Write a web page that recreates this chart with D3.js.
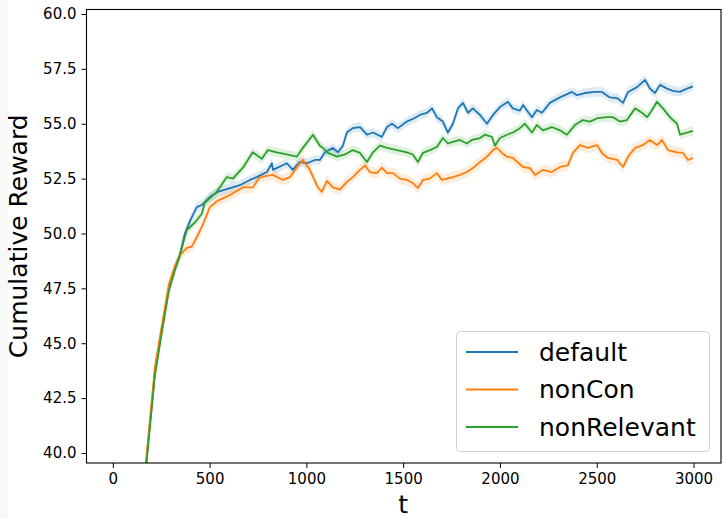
<!DOCTYPE html>
<html>
<head>
<meta charset="utf-8">
<script src="https://cdn.jsdelivr.net/npm/d3@7"></script>
<style>
  body { margin: 0; background: #fff; }
  svg { font-family: "DejaVu Sans", sans-serif; }
</style>
</head>
<body>
<svg id="chart" width="723" height="519"></svg>
<script>
// values
const tDefault = [170,217,253,290,320,346,372,400,434,460,501,543,605,656,708,744,796,822,827,899,930,966,1003,1044,1070,1096,1137,1163,1189,1209,1240,1277,1313,1344,1390,1416,1442,1473,1519,1560,1586,1623,1649,1674,1705,1731,1757,1783,1809,1835,1860,1897,1933,1964,2000,2041,2067,2103,2119,2165,2191,2217,2258,2310,2372,2398,2439,2491,2527,2568,2605,2636,2662,2708,2750,2775,2801,2827,2863,2894,2930,2966,2997]
const vDefault = [39.3,43.64,45.6,47.56,48.4,49.0,50.0,50.6,51.2,51.3,51.66,51.9,52.07,52.2,52.44,52.57,52.8,53.2,52.9,53.2,52.9,53.26,53.2,53.35,53.35,53.7,53.9,53.7,54.0,54.6,54.8,54.85,54.5,54.6,54.4,54.85,55.0,54.8,55.1,55.26,55.4,55.5,55.7,55.3,55.1,54.6,55.0,55.7,55.95,55.5,55.7,55.4,55.0,55.4,55.76,56.0,55.7,55.6,55.85,55.3,55.63,55.5,55.95,56.2,56.45,56.3,56.4,56.45,56.45,56.2,56.17,55.95,56.45,56.67,57.0,56.6,56.4,56.77,56.6,56.5,56.45,56.6,56.7]

const tNonCon = [170,217,253,290,320,346,382,408,434,465,501,543,605,672,723,760,827,878,915,966,982,1018,1059,1080,1106,1137,1173,1209,1240,1277,1303,1328,1364,1390,1416,1447,1483,1519,1550,1576,1602,1638,1674,1700,1726,1757,1793,1829,1860,1897,1933,1964,1985,2010,2036,2067,2119,2155,2181,2222,2268,2310,2351,2377,2413,2455,2501,2527,2558,2605,2636,2662,2698,2739,2775,2811,2837,2868,2915,2946,2971,2997]
const vNonCon = [39.5,43.9,45.8,47.7,48.5,49.0,49.34,49.4,49.84,50.4,51.2,51.5,51.75,52.1,52.1,52.57,52.67,52.44,52.57,53.2,53.35,52.9,52.1,51.9,52.4,52.1,52.0,52.35,52.57,52.9,53.1,52.8,52.75,53.0,52.75,52.75,52.5,52.44,52.3,52.07,52.44,52.5,52.75,52.44,52.5,52.57,52.67,52.8,52.98,53.26,53.5,53.8,53.9,53.67,53.5,53.44,53.03,52.98,52.67,52.9,52.8,53.03,53.1,53.67,54.03,53.9,54.03,53.67,53.44,53.35,53.03,53.5,53.9,54.03,54.26,54.03,54.26,53.8,53.7,53.67,53.35,53.44]

const tNonRel = [170,217,253,290,320,346,382,424,460,475,537,589,620,672,723,770,801,847,899,950,982,1034,1070,1085,1111,1158,1199,1240,1277,1313,1344,1380,1416,1468,1519,1550,1576,1602,1638,1674,1705,1731,1757,1793,1829,1855,1897,1922,1959,1974,2000,2036,2067,2103,2129,2165,2191,2222,2268,2310,2346,2387,2429,2465,2506,2553,2584,2620,2656,2698,2734,2760,2786,2811,2842,2878,2915,2930,2966,2997]
const vNonRel = [39.2,43.5,45.5,47.4,48.3,49.0,50.16,50.5,50.9,51.4,51.9,52.57,52.5,53.0,53.7,53.4,53.8,53.7,53.6,53.5,53.9,54.5,54.0,53.9,53.67,53.5,53.6,53.8,53.67,53.26,53.7,54.0,53.9,53.8,53.7,53.6,53.26,53.67,53.8,53.94,54.35,54.1,54.17,54.26,54.1,54.26,54.35,54.5,54.4,54.0,54.35,54.5,54.6,54.8,55.0,54.6,54.94,54.7,54.85,54.7,54.5,54.94,55.17,55.1,55.26,55.3,55.3,55.1,55.17,55.7,55.5,55.3,55.63,56.0,55.7,55.3,55.0,54.5,54.6,54.67]

const seriesNames = ["default", "nonCon", "nonRelevant"]
const seriesColors = ["#1f77b4", "#ff7f0e", "#2ca02c"]
const bandHalf = [0.22, 0.25, 0.22]

const xTicks = [0, 500, 1000, 1500, 2000, 2500, 3000]
const yTicks = [40, 42.5, 45, 47.5, 50, 52.5, 55, 57.5, 60]

const series = [
  tDefault.map((t, i) => [t, vDefault[i]]),
  tNonCon.map((t, i) => [t, vNonCon[i]]),
  tNonRel.map((t, i) => [t, vNonRel[i]])
]

const svg = d3.select("#chart")
const plotLeft = 86.5, plotRight = 721, plotTop = 9.5, plotBottom = 463

// light strip at the left edge
svg.append("rect")
   .attr("x", 0).attr("y", 0).attr("width", 8).attr("height", 519)
   .attr("fill", "#f8f8f8")

const x = d3.scaleLinear().domain([-136, 3142]).range([plotLeft, plotRight])
const y = d3.scaleLinear().domain([39.544, 60.205]).range([plotBottom, plotTop])

svg.append("clipPath").attr("id", "plotclip")
   .append("rect")
   .attr("x", plotLeft).attr("y", plotTop)
   .attr("width", plotRight - plotLeft).attr("height", plotBottom - plotTop)

const plot = svg.append("g").attr("clip-path", "url(#plotclip)")

const line = d3.line()
  .x(d => x(d[0]))
  .y(d => y(d[1]))

series.forEach((s, i) => {
  const band = d3.area()
    .x(d => x(d[0]))
    .y0(d => y(d[1] - bandHalf[i]))
    .y1(d => y(d[1] + bandHalf[i]))
  plot.append("path")
      .datum(s)
      .attr("d", band)
      .attr("fill", seriesColors[i])
      .attr("fill-opacity", 0.15)
})

series.forEach((s, i) => {
  plot.append("path")
      .datum(s)
      .attr("d", line)
      .attr("fill", "none")
      .attr("stroke", seriesColors[i])
      .attr("stroke-width", 1.8)
      .attr("stroke-linejoin", "round")
})

// axes
const xAxis = svg.append("g")
   .attr("transform", `translate(0,${plotBottom})`)
   .call(d3.axisBottom(x).tickValues(xTicks).tickSize(5).tickPadding(5).tickFormat(d3.format("d")))
const yAxis = svg.append("g")
   .attr("transform", `translate(${plotLeft},0)`)
   .call(d3.axisLeft(y).tickValues(yTicks).tickSize(5).tickPadding(5).tickFormat(d3.format(".1f")))

;[xAxis, yAxis].forEach(a => {
  a.select(".domain").remove()
  a.selectAll("text").attr("font-size", 15).attr("fill", "#000").attr("font-family", "DejaVu Sans")
  a.selectAll("line").attr("stroke", "#000").attr("stroke-width", 1)
})

// frame
svg.append("rect")
   .attr("x", plotLeft).attr("y", plotTop)
   .attr("width", plotRight - plotLeft).attr("height", plotBottom - plotTop)
   .attr("fill", "none")
   .attr("stroke", "#000")
   .attr("stroke-width", 1.1)

// axis labels
svg.append("text")
   .attr("x", x(1500)).attr("y", 513)
   .attr("text-anchor", "middle")
   .attr("font-size", 25)
   .text("t")

svg.append("text")
   .attr("transform", `translate(27,${(plotTop + plotBottom) / 2}) rotate(-90)`)
   .attr("text-anchor", "middle")
   .attr("font-size", 25)
   .text("Cumulative Reward")

// legend
const legend = svg.append("g")
legend.append("rect")
      .attr("x", 456.5).attr("y", 331.5)
      .attr("width", 253).attr("height", 120)
      .attr("rx", 4)
      .attr("fill", "#fff").attr("fill-opacity", 0.8)
      .attr("stroke", "#d0d0d0")

seriesNames.forEach((name, i) => {
  const ly = 352 + i * 37.5
  legend.append("line")
        .attr("x1", 466).attr("x2", 518)
        .attr("y1", ly).attr("y2", ly)
        .attr("stroke", seriesColors[i])
        .attr("stroke-width", 1.8)
  legend.append("text")
        .attr("x", 539).attr("y", ly)
        .attr("dy", "0.35em")
        .attr("font-size", 25)
        .text(name)
})
</script>
</body>
</html>
